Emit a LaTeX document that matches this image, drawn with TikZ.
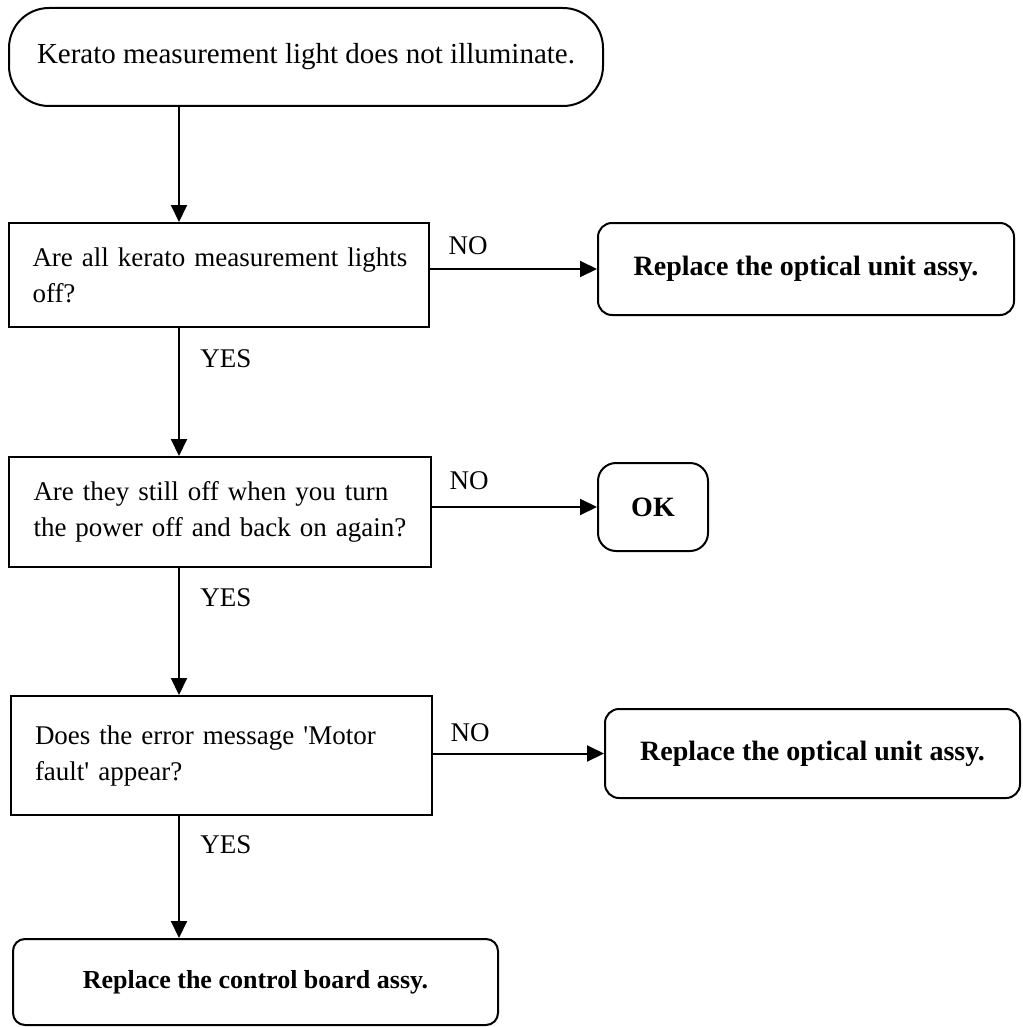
\documentclass[tikz,border=0pt]{standalone}
\usepackage{fontspec}
\setmainfont{Liberation Serif}
\usetikzlibrary{arrows.meta}
\hbadness=10000
\begin{document}
\begin{tikzpicture}[x=1pt,y=-1pt,
  every node/.style={inner sep=0pt},
  line/.style={line width=2pt},
  flow/.style={line, -{Triangle[length=17pt,width=16pt]}},
  startbox/.style={draw, line, rounded corners=40pt, align=center,
    font=\fontsize{29}{36}\selectfont},
  qbox/.style={draw, line, rectangle, text width=373pt, align=left,
    font=\fontsize{27}{36}\selectfont},
  endbox/.style={draw, line, rounded corners=14pt, align=center,
    font=\fontsize{28}{34}\selectfont\bfseries},
  lbl/.style={font=\fontsize{27}{34}\selectfont}
]
\useasboundingbox (0,0) rectangle (1022,1027);

% start of the procedure
\node[startbox, minimum width=594pt, minimum height=98pt] (start) at (306,57)
  {Kerato measurement light does not illuminate.};

% questions
\node[qbox, minimum width=420pt, minimum height=104pt] (q1) at (219,275)
  {\makebox[373pt][s]{Are all kerato measurement lights}\\off?};
\node[qbox, minimum width=422pt, minimum height=110pt] (q2) at (220,512)
  {\makebox[373pt][s]{Are they still off when you turn}\\the power off and back on again?};
\node[qbox, minimum width=421pt, minimum height=119pt] (q3) at (221.5,755.5)
  {\makebox[373pt][s]{Does the error message \textquotesingle Motor}\\fault\textquotesingle{} appear?};

% outcomes
\node[endbox, minimum width=416pt, minimum height=92pt] (r1) at (806,269)
  {Replace the optical unit assy.};
\node[endbox, rounded corners=18pt, minimum width=110pt, minimum height=88pt] (ok) at (653,507)
  {OK};
\node[endbox, minimum width=415pt, minimum height=89pt] (r2) at (812.5,753.5)
  {Replace the optical unit assy.};
\node[endbox, font=\fontsize{26}{32}\selectfont\bfseries, rounded corners=12pt,
  minimum width=485pt, minimum height=86pt] (r3) at (255.5,982)
  {Replace the control board assy.};

% vertical flow line
\coordinate (col) at (179,0);

\draw[flow] (start.south -| col) -- (q1.north -| col);
\draw[flow] (q1.south -| col) -- (q2.north -| col);
\draw[flow] (q2.south -| col) -- (q3.north -| col);
\draw[flow] (q3.south -| col) -- (r3.north -| col);

\draw[flow] (r1.west -| q1.east) -- (r1.west);
\draw[flow] (ok.west -| q2.east) -- (ok.west);
\draw[flow] (r2.west -| q3.east) -- (r2.west);

% answer labels
\node[lbl] (no1) at (468,246) {NO};
\node[lbl] (no2) at (469,481) {NO};
\node[lbl] (no3) at (470,733) {NO};
\node[lbl] (yes1) at (226,359) {YES};
\node[lbl] (yes2) at (226,598) {YES};
\node[lbl] (yes3) at (226,845) {YES};
\end{tikzpicture}
\end{document}
